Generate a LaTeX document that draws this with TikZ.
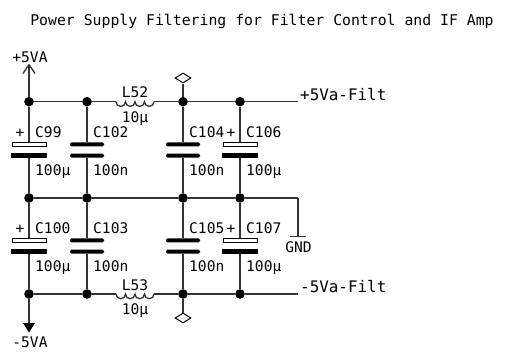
\documentclass[tikz,border=0pt]{standalone}
\usepackage{fontspec}
\setmainfont{DejaVu Sans Mono}
\usetikzlibrary{calc, positioning, shapes.geometric}

\tikzset{
  wire/.style={line width=1.3pt,black!80},
  junction/.style={circle,fill=black,inner sep=0pt,minimum size=9.6pt},
  polartop/.style={rectangle,draw=black,fill=white,line width=1pt,inner sep=0pt,minimum width=34pt,minimum height=3.6pt},
  polarbot/.style={rectangle,fill=black,inner sep=0pt,minimum width=35.5pt,minimum height=5pt},
  plate/.style={rectangle,fill=black,rounded corners=1.5pt,inner sep=0pt,minimum width=34pt,minimum height=4pt},
  flag/.style={diamond,draw=black,fill=white,line width=1pt,inner sep=0pt,minimum width=16pt,minimum height=10pt},
  lbl/.style={inner sep=0pt,text height=10.6pt,text depth=0pt,font=\fontsize{14.6}{16}\selectfont,anchor=west},
  netlbl/.style={inner sep=0pt,text height=12pt,text depth=0pt,font=\fontsize{15.9}{17}\selectfont,anchor=west},
}

\begin{document}
\begin{tikzpicture}[x=1pt,y=-1pt]
\useasboundingbox (0,0) rectangle (509,360);

\node[lbl,anchor=center,font=\fontsize{14.8}{16}\selectfont] (title) at (262,20.5) {Power Supply Filtering for Filter Control and IF Amp};

% junctions
\foreach\n/\x in {a/29,b/87,c/183,d/240}
{
  \node[junction] (\n top) at (\x,101.7) {};
  \node[junction] (\n mid) at (\x,198) {};
  \node[junction] (\n bot) at (\x,294) {};
}

% capacitors
\foreach\n/\x/\u/\l/\s/\t in {a/29/C99/C100/100µ/polar,b/87/C102/C103/100n/plain,c/183/C104/C105/100n/plain,d/240/C106/C107/100µ/polar}
{
  \ifnum\pdfstrcmp{\t}{polar}=0
    \node[polartop] (\n1p) at (\x,144.3) {};
    \node[polarbot] (\n1m) at (\x,155.7) {};
    \node[polartop] (\n2p) at (\x,240.3) {};
    \node[polarbot] (\n2m) at (\x,251.7) {};
  \else
    \node[plate] (\n1p) at (\x,144.3) {};
    \node[plate] (\n1m) at (\x,155.7) {};
    \node[plate] (\n2p) at (\x,240.3) {};
    \node[plate] (\n2m) at (\x,251.7) {};
  \fi
  \draw[wire] (\n top) -- (\n1p);
  \draw[wire] (\n1m) -- (\n mid);
  \draw[wire] (\n mid) -- (\n2p);
  \draw[wire] (\n2m) -- (\n bot);
  \node[lbl] (\u) at (\x+6,131.7) {\u};
  \node[lbl] (\l) at (\x+6,227.7) {\l};
  \node[lbl] (\u v) at (\x+6,170) {\s};
  \node[lbl] (\l v) at (\x+6,266) {\s};
}

\node[lbl,anchor=center] (plusa1) at (20,132.5) {+};
\node[lbl,anchor=center] (plusa2) at (20,228.5) {+};
\node[lbl,anchor=center] (plusd1) at (231,132.5) {+};
\node[lbl,anchor=center] (plusd2) at (231,228.5) {+};

% rails
\coordinate (l52a) at (116,101.7);
\coordinate (l52b) at (154,101.7);
\coordinate (l53a) at (116,294);
\coordinate (l53b) at (154,294);
\coordinate (fp) at (298,101.7);
\coordinate (fm) at (298,294);
\coordinate (gndcor) at (298,198);
\draw[wire] (atop) -- (btop) -- (l52a);
\draw[wire] (l52b) -- (ctop) -- (dtop) -- (fp);
\draw[wire] (amid) -- (bmid) -- (cmid) -- (dmid) -- (gndcor);
\draw[wire] (abot) -- (bbot) -- (l53a);
\draw[wire] (l53b) -- (cbot) -- (dbot) -- (fm);
\foreach\n in {l52,l53}
{
  \draw[wire] (\n a) arc (180:0:4.75) arc (180:0:4.75) arc (180:0:4.75) arc (180:0:4.75);
}
\node[lbl,anchor=center] (L52) at (135,92.5) {L52};
\node[lbl,anchor=center] (L52v) at (135,117) {10µ};
\node[lbl,anchor=center] (L53) at (135,285) {L53};
\node[lbl,anchor=center] (L53v) at (135,309) {10µ};

% flags
\node[flag] (flagtop) at (183,78) {};
\node[flag] (flagbot) at (183,318) {};
\draw[wire] (ctop) -- (flagtop);
\draw[wire] (cbot) -- (flagbot);

% supplies
\coordinate (vpos) at (29,64.5);
\coordinate (vneg) at (29,323);
\draw[wire] (atop) -- (vpos);
\draw[wire] (vpos) -- ++(-6,9) (vpos) -- ++(6,9);
\draw[wire] (abot) -- (vneg);
\fill[black] (vneg) -- ++(-6,0) -- ++(6,9.5) -- ++(6,-9.5) -- cycle;
\node[lbl,anchor=center] (vposlbl) at (30,57) {+5VA};
\node[lbl,anchor=center] (vneglbl) at (30,342) {-5VA};

% ground
\coordinate (gndtop) at (298,236.3);
\draw[wire] (gndcor) -- (gndtop);
\draw[wire] (gndtop) -- ++(-8,0) (gndtop) -- ++(8,0);
\node[lbl,anchor=center] (gndlbl) at (298.5,246.7) {GND};

\node[netlbl] (fplbl) at (300,94.3) {+5Va-Filt};
\node[netlbl] (fmlbl) at (300,286.7) {-5Va-Filt};
\end{tikzpicture}
\end{document}
